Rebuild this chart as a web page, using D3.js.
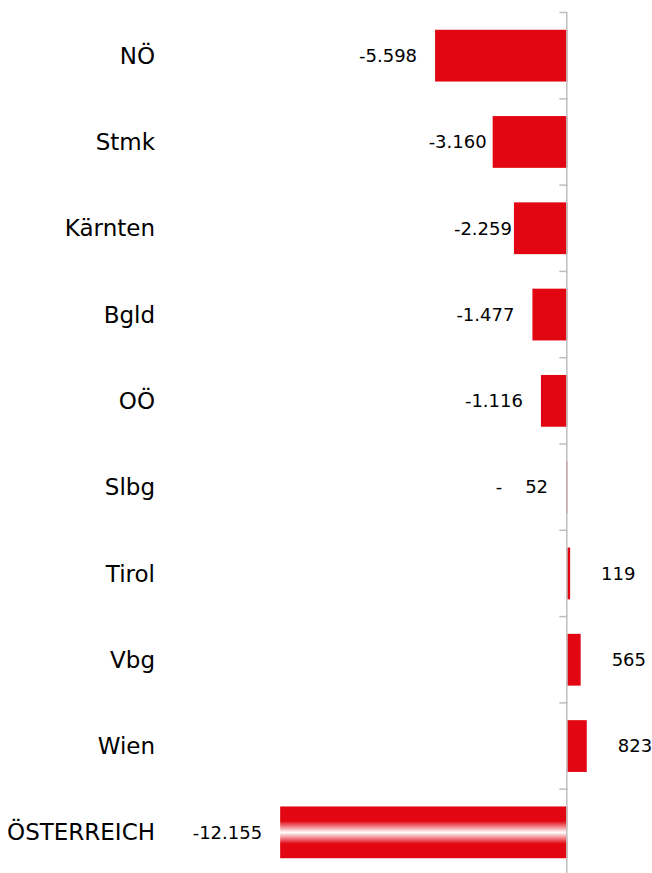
<!DOCTYPE html>
<html>
<head>
<meta charset="utf-8">
<script src="https://cdn.jsdelivr.net/npm/d3@7"></script>
<style>
  body { margin: 0; background: #fff; }
  text { font-family: "DejaVu Sans", sans-serif; }
</style>
</head>
<body>
<div id="wrapper"></div>
<script>
// data
const regions = ["NÖ", "Stmk", "Kärnten", "Bgld", "OÖ", "Slbg", "Tirol", "Vbg", "Wien", "ÖSTERREICH"]
const changes = [-5598, -3160, -2259, -1477, -1116, -52, 119, 565, 823, -12155]
const totalRegion = "ÖSTERREICH"
// labels that were moved by hand in the original
const labelNudge = { "Stmk": 12, "Kärnten": 16 }

const dataset = regions.map((r, i) => ({ region: r, value: changes[i] }))

function drawBarChart() {
  //1_dimensions
  let dimensions = {
    width: 652,
    height: 873,
    margin: { top: 12.5, right: 2, bottom: -2.5, left: 272 },
  }

  const red = "#e20613"

  //2_canvas
  const wrapper = d3.select("#wrapper")
    .append("svg")
    .attr("width", dimensions.width)
    .attr("height", dimensions.height)

  const defs = wrapper.append("defs")
  const grad = defs.append("linearGradient")
    .attr("id", "totalGrad")
    .attr("x1", 0).attr("y1", 0).attr("x2", 0).attr("y2", 1)
  ;[[0, red], [0.28, red], [0.5, "#ffffff"], [0.72, red], [1, red]].forEach(s => {
    grad.append("stop").attr("offset", s[0]).attr("stop-color", s[1])
  })

  //3_scales
  const xScale = d3.scaleLinear()
    .domain([-12500, 3500])
    .range([dimensions.margin.left, dimensions.margin.left + 378])

  const yScale = d3.scaleBand()
    .domain(regions)
    .range([dimensions.margin.top, dimensions.margin.top + 863])
    .paddingInner(0.4)
    .paddingOuter(0.2)

  const step = yScale.step()
  const x0 = xScale(0)

  //4_bars
  wrapper.append("g")
    .selectAll("rect")
    .data(dataset)
    .join("rect")
    .attr("x", d => Math.min(xScale(d.value), x0))
    .attr("width", d => Math.abs(xScale(d.value) - x0))
    .attr("y", d => yScale(d.region))
    .attr("height", yScale.bandwidth())
    .attr("fill", d => d.region === totalRegion ? "url(#totalGrad)" : red)

  //5_axis (category boundaries), drawn over the bars
  const axis = wrapper.append("g")
  axis.append("line")
    .attr("x1", x0 - 0.5).attr("x2", x0 - 0.5)
    .attr("y1", dimensions.margin.top)
    .attr("y2", dimensions.height)
    .attr("stroke", "#bfbfbf")
    .attr("stroke-width", 1.5)
  axis.selectAll(".tick")
    .data(regions)
    .join("line")
    .attr("class", "tick")
    .attr("x1", x0 - 8).attr("x2", x0)
    .attr("y1", d => yScale(d) - step * 0.2)
    .attr("y2", d => yScale(d) - step * 0.2)
    .attr("stroke", "#bfbfbf")
    .attr("stroke-width", 1.5)

  //6_category labels
  wrapper.append("g")
    .selectAll("text")
    .data(regions)
    .join("text")
    .attr("x", 155)
    .attr("y", d => yScale(d) + yScale.bandwidth() / 2)
    .attr("dy", "0.35em")
    .attr("text-anchor", "end")
    .style("font-size", "23px")
    .attr("fill", "#000")
    .text(d => d)

  //7_value labels
  const locale = d3.formatLocale({ decimal: ",", thousands: ".", grouping: [3], currency: ["", "€"], minus: "-" })
  const fmt = locale.format(",d")
  const labelText = v => (v < 0 && v > -1000) ? "-    " + fmt(-v) : fmt(v)

  wrapper.append("g")
    .selectAll("text")
    .data(dataset)
    .join("text")
    .attr("x", d => d.value < 0
      ? xScale(d.value) - 18 + (labelNudge[d.region] || 0)
      : xScale(d.value) + 31)
    .attr("y", d => yScale(d.region) + yScale.bandwidth() / 2)
    .attr("dy", "0.35em")
    .attr("text-anchor", d => d.value < 0 ? "end" : "start")
    .style("font-size", "18px")
    .style("white-space", "pre")
    .attr("fill", "#000")
    .text(d => labelText(d.value))
}
drawBarChart()
</script>
</body>
</html>
